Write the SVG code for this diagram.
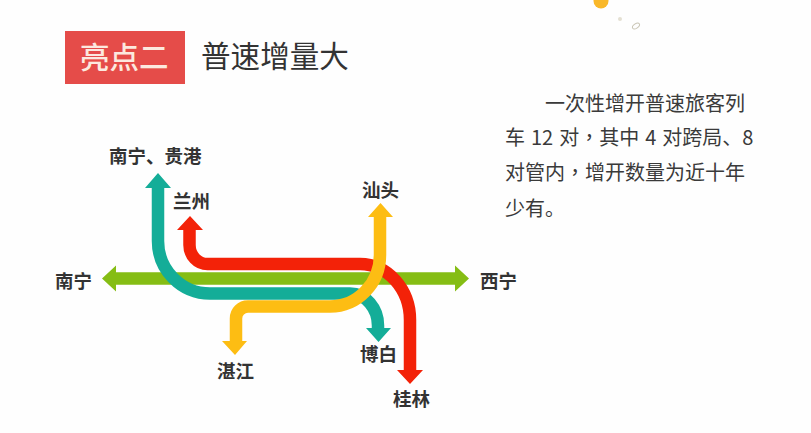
<svg xmlns="http://www.w3.org/2000/svg" width="811" height="433" viewBox="0 0 811 433">
<style>
text{font-family:"Noto Sans CJK SC","Noto Sans",sans-serif}
.l{font-size:18.5px;font-weight:700;fill:#333}
.b{font-size:20px;fill:#3a3a3a}
.c{font-family:"Noto Sans CJK TC","Noto Sans",sans-serif}
.s{fill:none;stroke-width:12.500}
</style>
<rect width="811" height="433" fill="#fefefe"/>
<g id="decor">
<circle cx="601" cy="1" r="7.500" fill="#f9b82a"/>
<ellipse cx="636" cy="26" rx="4" ry="2.200" transform="rotate(-35 636 26)" fill="none" stroke="#c9c5b5" stroke-width="1"/>
<circle cx="620" cy="19" r="2" fill="#e4e0d2"/>
</g>
<g id="title-badge">
<rect x="65" y="31" width="120" height="53" fill="#e54c49"/>
<text x="80" y="67.500" font-size="29.500" font-weight="500" fill="#fce9df">亮点二</text>
</g>
<g id="title"><text x="201" y="67" font-size="29.600" fill="#333">普速增量大</text></g>
<g id="body">
<text class="b" x="545" y="111">一次性增开普速旅客列</text>
<text class="b" x="505" y="145" word-spacing="1.500">车 12 对<tspan class="c">，</tspan>其中 4 对跨局、8</text>
<text class="b" x="505" y="180">对管内<tspan class="c">，</tspan>增开数量为近十年</text>
<text class="b" x="505" y="216">少有。</text>
</g>
<g id="connectors">
<path class="s" stroke="#85bd14" d="M114 278.500H457"/>
<path fill="#85bd14" d="M102 278.500L116 265.500V291.500ZM469 278.500L455 265.500V291.500Z"/>
<path class="s" stroke="#14ad98" d="M158 186V241A52 52.500 0 0 0 210 293.500H350A28 32 0 0 1 378 326V330"/>
<path fill="#14ad98" d="M158 173L171 188H145ZM378.500 342L366 328H391Z"/>
<path class="s" stroke="#f32208" d="M189.500 228V245A18 19 0 0 0 207.500 264H360A50 56 0 0 1 410 320V372"/>
<path fill="#f32208" d="M190 216L203 230H177ZM410 384L397 370H423Z"/>
<path class="s" stroke="#fdbd13" d="M380 215V255A50 51.500 0 0 1 330 306.500H248A12 12 0 0 0 236 318.500V343"/>
<path fill="#fdbd13" d="M380.500 203L393 217H368ZM235 355L222 341H247Z"/>
</g>
<g id="n-nanning-guigang"><text class="l" x="109" y="163">南宁、贵港</text></g>
<g id="n-lanzhou"><text class="l" x="173" y="208">兰州</text></g>
<g id="n-shantou"><text class="l" x="362" y="197">汕头</text></g>
<g id="n-nanning"><text class="l" x="55" y="288">南宁</text></g>
<g id="n-xining"><text class="l" x="480" y="288">西宁</text></g>
<g id="n-zhanjiang"><text class="l" x="217" y="378">湛江</text></g>
<g id="n-bobai"><text class="l" x="360" y="361">博白</text></g>
<g id="n-guilin"><text class="l" x="393" y="406">桂林</text></g>
</svg>
